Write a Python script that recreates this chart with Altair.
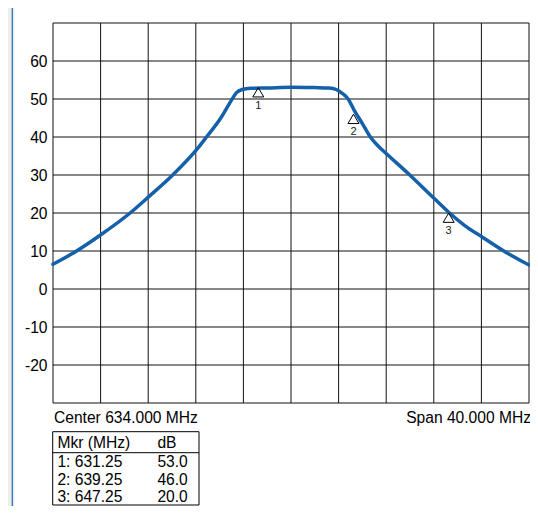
import altair as alt
import pandas as pd

# trace (MHz, dB)
freq = [614.0, 615.98, 618.08, 620.48, 622.05, 624.06, 626.1, 626.9, 628.1, 629.0,
        629.4, 629.9, 630.6, 632.0, 634.0, 636.0, 637.2, 637.8, 638.3, 638.8,
        639.3, 640.0, 640.67, 641.3, 642.02, 643.98, 646.04, 647.25, 648.6, 650.0,
        651.88, 654.0]
level = [6.5, 10.0, 14.4, 20.0, 24.3, 30.0, 36.8, 40.0, 45.0, 49.7,
         51.6, 52.5, 52.8, 52.9, 53.1, 53.0, 52.9, 52.5, 51.5, 50.0,
         47.1, 43.5, 40.0, 37.7, 35.6, 30.0, 23.8, 20.2, 16.7, 13.8,
         10.0, 6.3]

mkr_no = [1, 2, 3]
mkr_freq = [631.25, 639.25, 647.25]
mkr_db = [53.0, 46.0, 20.0]

x_grid = [614, 618, 622, 626, 630, 634, 638, 642, 646, 650, 654]
y_grid = [-30, -20, -10, 0, 10, 20, 30, 40, 50, 60, 70]
y_labels = [-20, -10, 0, 10, 20, 30, 40, 50, 60]

center_mhz = 634.0
span_mhz = 40.0

FONT = "Liberation Sans"
TRACE = "#1560aa"
FS = 15.6

W, H = 476, 380

xscale = alt.Scale(domain=[614, 654], nice=False, zero=False)
yscale = alt.Scale(domain=[-30, 70], nice=False, zero=False)
yaxis = alt.Axis(values=y_labels, grid=False, domain=False, ticks=False,
                 labelFontSize=FS, labelFont=FONT, labelColor="black",
                 labelExpr="'' + datum.value",
                 labelPadding=6, title=None, zindex=1)

trace_df = pd.DataFrame({"f": freq, "db": level})
mkr_df = pd.DataFrame({"n": mkr_no, "f": mkr_freq, "db": mkr_db})
xg_df = pd.DataFrame({"f": x_grid})
yg_df = pd.DataFrame({"db": y_grid})

panel = alt.Chart(pd.DataFrame({"a": [0]})).mark_rect(
    fill="white", stroke="#3a78b8", strokeWidth=1.5
).encode(x=alt.value(-40.6), x2=alt.value(700), y=alt.value(-40), y2=alt.value(700))

vgrid = alt.Chart(xg_df).mark_rule(color="#111", strokeWidth=1).encode(
    x=alt.X("f:Q", scale=xscale, axis=None),
    y=alt.YDatum(-30, scale=yscale, axis=yaxis),
    y2=alt.Y2Datum(70),
)

hgrid = alt.Chart(yg_df).mark_rule(color="#111", strokeWidth=1).encode(
    y=alt.Y("db:Q", scale=yscale, axis=yaxis),
    x=alt.XDatum(614, scale=xscale, axis=None),
    x2=alt.X2Datum(654),
)

trace = alt.Chart(trace_df).mark_line(
    color=TRACE, strokeWidth=3.5, interpolate="monotone", strokeCap="round"
).encode(
    x=alt.X("f:Q", scale=xscale, axis=None),
    y=alt.Y("db:Q", scale=yscale, axis=yaxis),
)

tri = alt.Chart(mkr_df).mark_point(
    shape="M0,0L-1,1.7L1,1.7Z", filled=False, color="black", size=121,
    strokeWidth=1, opacity=1
).encode(
    x=alt.X("f:Q", scale=xscale, axis=None),
    y=alt.Y("db:Q", scale=yscale, axis=yaxis),
)

tri_lbl = alt.Chart(mkr_df).mark_text(
    dy=18, baseline="middle", align="center", font=FONT, fontSize=11, color="#222"
).encode(
    x=alt.X("f:Q", scale=xscale, axis=None),
    y=alt.Y("db:Q", scale=yscale, axis=yaxis),
    text="n:N",
)

one = pd.DataFrame({"a": [0]})

def label(txt, x, y, align="left"):
    return alt.Chart(one).mark_text(
        text=txt, align=align, baseline="alphabetic", font=FONT, fontSize=FS, color="black"
    ).encode(x=alt.value(x), y=alt.value(y))

layers = [panel, vgrid, hgrid, trace, tri, tri_lbl,
          label(f"Center {center_mhz:.3f} MHz", 1, 400.3),
          label(f"Span {span_mhz:.3f} MHz", W + 2, 400.3, align="right")]

# marker table
TOP, BOT = 408.7, 482.0
table_box = alt.Chart(one).mark_rect(fill="white", stroke="black", strokeWidth=1).encode(
    x=alt.value(-0.3), x2=alt.value(146), y=alt.value(TOP), y2=alt.value(BOT)
)
table_line = alt.Chart(one).mark_rule(color="black", strokeWidth=1).encode(
    x=alt.value(-0.3), x2=alt.value(146), y=alt.value(TOP + 21)
)
layers += [table_box, table_line, label("Mkr (MHz)", 4.4, TOP + 16),
           label("dB", 104.4, TOP + 16)]
for i, (n, f, d) in enumerate(zip(mkr_no, mkr_freq, mkr_db)):
    yy = TOP + 35.6 + 17.4 * i
    layers.append(label(f"{n}: {f:.2f}", 4.4, yy))
    layers.append(label(f"{d:.1f}", 104.4, yy))

chart = alt.layer(*layers).properties(
    width=W, height=H,
    autosize=alt.AutoSizeParams(type="none"),
    padding={"left": 45, "top": 15, "right": 1, "bottom": 103},
    background="#eeefeb",
).configure_view(stroke=None)

chart.save("out.html", embed_options={"renderer": "svg", "actions": False})
